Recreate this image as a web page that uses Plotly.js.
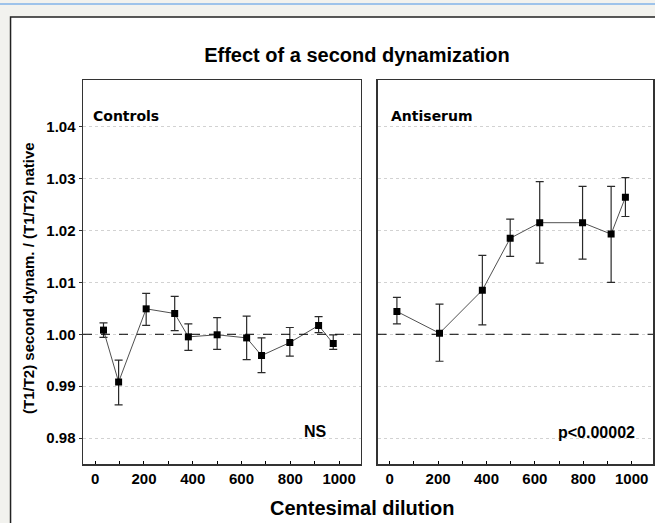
<!DOCTYPE html>
<html>
<head>
<meta charset="utf-8">
<script src="https://cdn.plot.ly/plotly-3.0.1.min.js"></script>
<style>html,body{margin:0;padding:0;background:#f2f2ee;}#chart{width:655px;height:523px;}</style>
</head>
<body>
<div id="chart"></div>
<script>
// Controls panel
var ctrlX = [34, 96, 209, 326, 382, 500, 621, 682, 798, 916, 976];
var ctrlY = [1.0008, 0.9908, 1.0049, 1.0040, 0.9995, 0.9999, 0.9993, 0.9959, 0.9984, 1.0017, 0.9982];
var ctrlUpper = [1.0022, 0.9950, 1.0079, 1.0073, 1.0020, 1.0032, 1.0035, 0.9993, 1.0013, 1.0034, 0.9999];
var ctrlLower = [0.9994, 0.9864, 1.0017, 1.0007, 0.9969, 0.9971, 0.9951, 0.9926, 0.9958, 1.0003, 0.9971];

// Antiserum panel
var antiX = [30, 206, 383, 498, 620, 797, 915, 974];
var antiY = [1.0044, 1.0002, 1.0085, 1.0185, 1.0215, 1.0215, 1.0193, 1.0264];
var antiUpper = [1.0071, 1.0058, 1.0152, 1.0222, 1.0294, 1.0285, 1.0285, 1.0302];
var antiLower = [1.0020, 0.9948, 1.0018, 1.0150, 1.0137, 1.0145, 1.0100, 1.0227];

var xTicks = [0, 200, 400, 600, 800, 1000];
var yTicks = [0.98, 0.99, 1.00, 1.01, 1.02, 1.03, 1.04];
var yTickText = ["0.98", "0.99", "1.00", "1.01", "1.02", "1.03", "1.04"];

var panelNames = ["Controls", "Antiserum"];
var panelStats = ["NS", "p<0.00002"];

function diff(a, b) { return a.map(function (v, i) { return v - b[i]; }); }

function mkTrace(x, y, up, lo, xa, ya) {
  return {
    x: x, y: y, xaxis: xa, yaxis: ya,
    type: 'scatter', mode: 'lines+markers',
    line: {color: '#505050', width: 1},
    marker: {symbol: 'square', size: 7, color: '#000'},
    error_y: {type: 'data', symmetric: false, array: diff(up, y), arrayminus: diff(y, lo),
              color: '#2a2a2a', thickness: 1.2, width: 4},
    showlegend: false, hoverinfo: 'skip'
  };
}

var traces = [
  mkTrace(ctrlX, ctrlY, ctrlUpper, ctrlLower, 'x', 'y'),
  mkTrace(antiX, antiY, antiUpper, antiLower, 'x2', 'y2')
];

// pixel -> paper helpers (plot area: x 83..653.3, y 80..464)
var L = 83, R = 653.3, T = 80, B = 464;
function px(x) { return (x - L) / (R - L); }
function py(y) { return (B - y) / (B - T); }

var tickFont = {family: 'Liberation Sans, Arial, sans-serif', size: 15, color: '#000', weight: 700};
var yRange = [0.975, 1.049];
var xRange = [-50, 1088];

function xAxis(domain, anchor) {
  return {
    domain: domain, anchor: anchor, range: xRange,
    tickmode: 'array', tickvals: xTicks, ticktext: xTicks.map(String),
    ticks: 'inside', ticklen: 3, tickcolor: '#000', tickwidth: 1,
    minor: {tickmode: 'array', tickvals: [100, 300, 500, 700, 900], ticks: 'inside', ticklen: 3, tickcolor: '#000', showgrid: false},
    showline: true, mirror: true, linecolor: '#333', linewidth: 1.5,
    showgrid: false, zeroline: false, tickfont: tickFont, fixedrange: true
  };
}
function yAxis(anchor, labels) {
  return {
    anchor: anchor, range: yRange,
    tickmode: 'array', tickvals: yTicks, ticktext: yTickText,
    showticklabels: labels, ticks: labels ? 'outside' : '', ticklen: 3, tickcolor: '#333',
    showline: true, mirror: true, linecolor: '#333', linewidth: 1.5,
    showgrid: true, gridcolor: '#d2d2d2', griddash: 'dot', gridwidth: 1,
    zeroline: false, tickfont: tickFont, fixedrange: true
  };
}

var boldArial = function (s) { return {family: 'Liberation Sans, Arial, sans-serif', size: s, color: '#000', weight: 700}; };
var boldVerd = function (s) { return {family: 'DejaVu Sans, Verdana, sans-serif', size: s, color: '#000', weight: 700}; };

var layout = {
  width: 655, height: 523,
  margin: {l: L, r: 655 - R, t: T, b: 523 - B, pad: 0},
  paper_bgcolor: '#f2f2ee', plot_bgcolor: '#ffffff',
  title: {text: 'Effect of a second dynamization', font: boldArial(20),
          xref: 'container', yref: 'container', x: 357 / 655, y: 1 - 55 / 523,
          xanchor: 'center', yanchor: 'middle'},
  xaxis: xAxis([0, px(360.7)], 'y'),
  yaxis: yAxis('x', true),
  xaxis2: xAxis([px(377.7), 1], 'y2'),
  yaxis2: yAxis('x2', false),
  shapes: [
    {type: 'rect', xref: 'paper', yref: 'paper', x0: px(10.5), x1: px(720), y0: py(17), y1: py(600),
     fillcolor: '#ffffff', line: {color: '#222', width: 1.5}, layer: 'below'},
    {type: 'line', xref: 'paper', yref: 'paper', x0: px(-5), x1: px(700), y0: py(4), y1: py(4),
     line: {color: '#9ec3ea', width: 2}, layer: 'below'},
    {type: 'line', xref: 'x domain', yref: 'y', x0: 0, x1: 1, y0: 1, y1: 1,
     line: {color: '#000', width: 1, dash: 'dash'}},
    {type: 'line', xref: 'x2 domain', yref: 'y2', x0: 0, x1: 1, y0: 1, y1: 1,
     line: {color: '#000', width: 1, dash: 'dash'}}
  ],
  annotations: [
    {text: panelNames[0], xref: 'paper', yref: 'paper', x: px(91), y: py(116), xanchor: 'left', yanchor: 'middle',
     showarrow: false, font: boldVerd(14)},
    {text: panelNames[1], xref: 'paper', yref: 'paper', x: px(389), y: py(116), xanchor: 'left', yanchor: 'middle',
     showarrow: false, font: boldVerd(14)},
    {text: panelStats[0], xref: 'paper', yref: 'paper', x: px(329), y: py(431), xanchor: 'right', yanchor: 'middle',
     showarrow: false, font: boldArial(16)},
    {text: panelStats[1], xref: 'paper', yref: 'paper', x: px(637), y: py(432), xanchor: 'right', yanchor: 'middle',
     showarrow: false, font: boldArial(16)},
    {text: 'Centesimal dilution', xref: 'paper', yref: 'paper', x: px(362), y: py(508), xanchor: 'center', yanchor: 'middle',
     showarrow: false, font: boldArial(20)},
    {text: '(T1/T2) second dynam. / (T1/T2) native', xref: 'paper', yref: 'paper', x: px(28), y: py(278),
     xanchor: 'center', yanchor: 'middle', textangle: -90, showarrow: false, font: boldArial(15)}
  ]
};

Plotly.newPlot('chart', traces, layout, {displayModeBar: false, staticPlot: true});
</script>
</body>
</html>
